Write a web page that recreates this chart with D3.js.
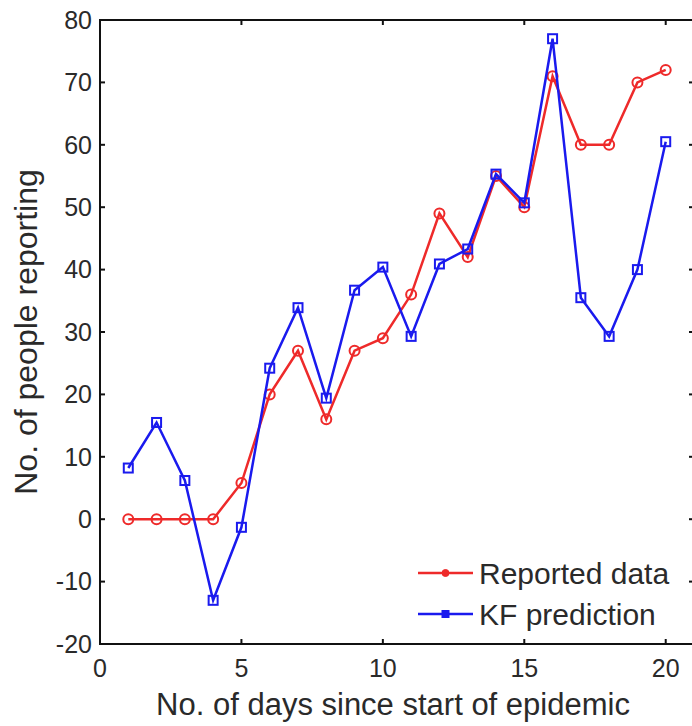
<!DOCTYPE html>
<html>
<head>
<meta charset="utf-8">
<script src="https://cdn.jsdelivr.net/npm/d3@7"></script>
<style>
  body { margin: 0; background: #fff; }
  text { font-family: "Liberation Sans", Arial, sans-serif; fill: #2a2a2a; }
</style>
</head>
<body>
<div id="chart"></div>
<script>
const days = d3.range(1, 21);
const reported = [0, 0, 0, 0, 5.8, 20, 27, 16, 27, 29, 36, 49, 42, 55, 50, 71, 60, 60, 70, 72];
const kfPrediction = [8.2, 15.5, 6.2, -13, -1.3, 24.2, 33.9, 19.4, 36.7, 40.4, 29.3, 40.9, 43.3, 55.3, 50.7, 77, 35.5, 29.3, 40, 60.5];
const xTicks = [0, 5, 10, 15, 20];
const yTicks = [-20, -10, 0, 10, 20, 30, 40, 50, 60, 70, 80];

const width = 692, height = 726;
const margin = { left: 100, top: 20, right: -2, bottom: 82 };

const svg = d3.select("#chart").append("svg")
  .attr("width", width)
  .attr("height", height);

const x = d3.scaleLinear().domain([0, 21]).range([margin.left, width - margin.right]);
const y = d3.scaleLinear().domain([-20, 80]).range([height - margin.bottom, margin.top]);

const tickLen = 5;

// Box + inward ticks (matlab style)
const axes = svg.append("g").attr("stroke", "#111").attr("stroke-width", 2);
axes.append("rect")
  .attr("x", x(0)).attr("y", y(80))
  .attr("width", x(21) - x(0)).attr("height", y(-20) - y(80))
  .attr("fill", "none");

xTicks.forEach(t => {
  axes.append("line").attr("x1", x(t)).attr("x2", x(t)).attr("y1", y(-20)).attr("y2", y(-20) - tickLen);
  axes.append("line").attr("x1", x(t)).attr("x2", x(t)).attr("y1", y(80)).attr("y2", y(80) + tickLen);
});
yTicks.forEach(t => {
  axes.append("line").attr("x1", x(0)).attr("x2", x(0) + tickLen).attr("y1", y(t)).attr("y2", y(t));
  axes.append("line").attr("x1", x(21)).attr("x2", x(21) - tickLen).attr("y1", y(t)).attr("y2", y(t));
});

svg.append("g").selectAll("text")
  .data(xTicks)
  .join("text")
  .attr("x", d => x(d))
  .attr("y", y(-20) + 33)
  .attr("text-anchor", "middle")
  .style("font-size", "25px")
  .text(d => d);

svg.append("g").selectAll("text")
  .data(yTicks)
  .join("text")
  .attr("x", x(0) - 8)
  .attr("y", d => y(d))
  .attr("dy", "0.35em")
  .attr("text-anchor", "end")
  .style("font-size", "25px")
  .text(d => d);

// Axis titles
svg.append("text")
  .attr("x", 393)
  .attr("y", 715)
  .attr("text-anchor", "middle")
  .style("font-size", "31px")
  .text("No. of days since start of epidemic");

svg.append("text")
  .attr("transform", `translate(37, ${(y(80) + y(-20)) / 2}) rotate(-90)`)
  .attr("text-anchor", "middle")
  .style("font-size", "32px")
  .text("No. of people reporting");

const line = d3.line().x((d, i) => x(days[i])).y(d => y(d));

const series = [
  { name: "Reported data", values: reported, color: "#ee2a2a", marker: "circle" },
  { name: "KF prediction", values: kfPrediction, color: "#1a1aee", marker: "square" }
];

series.forEach(s => {
  const g = svg.append("g");
  g.append("path")
    .datum(s.values)
    .attr("fill", "none")
    .attr("stroke", s.color)
    .attr("stroke-width", 2.5)
    .attr("d", line);
  if (s.marker === "circle") {
    g.selectAll("circle")
      .data(s.values)
      .join("circle")
      .attr("cx", (d, i) => x(days[i]))
      .attr("cy", d => y(d))
      .attr("r", 5)
      .attr("fill", "none")
      .attr("stroke", s.color)
      .attr("stroke-width", 2);
  } else {
    g.selectAll("rect")
      .data(s.values)
      .join("rect")
      .attr("x", (d, i) => x(days[i]) - 4.5)
      .attr("y", d => y(d) - 4.5)
      .attr("width", 9)
      .attr("height", 9)
      .attr("fill", "none")
      .attr("stroke", s.color)
      .attr("stroke-width", 2);
  }
});

// Legend
const legend = svg.append("g").attr("transform", "translate(418, 573)");
series.forEach((s, i) => {
  const row = legend.append("g").attr("transform", `translate(0, ${i * 41})`);
  row.append("line")
    .attr("x1", 0).attr("x2", 55).attr("y1", 0).attr("y2", 0)
    .attr("stroke", s.color).attr("stroke-width", 2.5);
  if (s.marker === "circle") {
    row.append("circle").attr("cx", 27.5).attr("cy", 0).attr("r", 3.5)
      .attr("fill", s.color).attr("stroke", s.color);
  } else {
    row.append("rect").attr("x", 24).attr("y", -3.5).attr("width", 7).attr("height", 7)
      .attr("fill", s.color).attr("stroke", s.color);
  }
  row.append("text")
    .attr("x", 61).attr("y", 0).attr("dy", "0.35em")
    .style("font-size", "30px")
    .text(s.name);
});
</script>
</body>
</html>
